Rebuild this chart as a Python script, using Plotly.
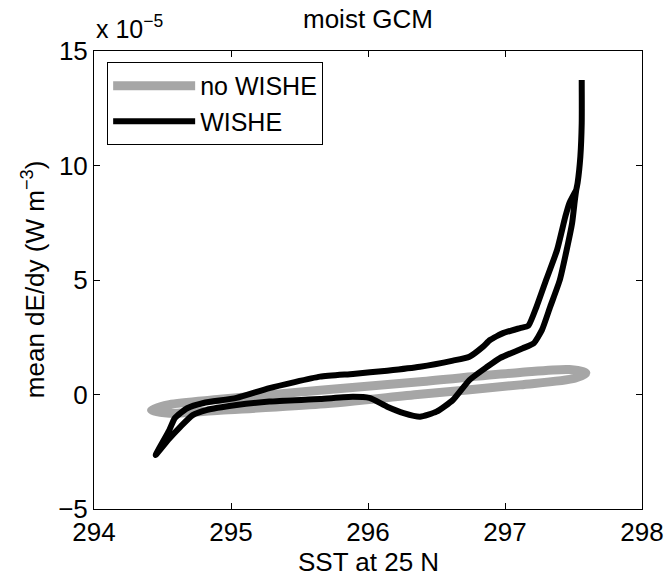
import plotly.graph_objects as go

# ---- data (SST in K, mean dE/dy in units of 1e-5 W m^-3) ----
x_ticks = [294, 295, 296, 297, 298]
y_ticks = [-5, 0, 5, 10, 15]

nowishe_sst = [294.42, 294.55, 294.92, 295.65, 296.38, 297.11, 297.47, 297.59,
               297.51, 297.11, 296.38, 295.65, 294.92, 294.55, 294.42]
nowishe_dedy = [-0.68, -0.44, -0.21, 0.19, 0.56, 0.96, 1.09, 0.94,
                0.71, 0.42, 0.01, -0.42, -0.69, -0.82, -0.68]

wishe_sst = [297.56, 297.56, 297.55, 297.53, 297.52, 297.51, 297.49, 297.45, 297.40,
             297.33, 297.27, 297.21, 297.13, 297.01, 296.96, 296.87, 296.74, 296.62,
             296.50, 296.38, 296.26, 296.14, 296.01, 295.89, 295.65, 295.28, 295.04,
             294.82, 294.72, 294.63, 294.54, 294.45, 294.55, 294.59, 294.68, 294.80,
             295.04, 295.28, 295.65, 295.89, 296.14, 296.38, 296.62, 296.74, 296.84,
             296.89, 296.99, 297.11, 297.17, 297.23, 297.30, 297.38, 297.44,
             297.47, 297.52]
wishe_dedy = [13.73, 11.86, 10.38, 9.24, 8.93, 8.49, 7.49, 6.31, 5.00,
              3.83, 2.82, 2.24, 2.02, 1.72, 1.58, 1.21, 0.63, -0.24,
              -0.75, -0.97, -0.81, -0.53, -0.15, -0.10, -0.20, -0.31, -0.46,
              -0.68, -0.90, -1.41, -1.99, -2.64, -1.55, -1.03, -0.60, -0.37,
              -0.15, 0.28, 0.78, 0.90, 1.04, 1.21, 1.48, 1.65, 2.09,
              2.38, 2.69, 2.90, 3.00, 3.83, 5.00, 6.31, 7.76,
              8.36, 8.93]

FONT = "Liberation Sans, Arial, Helvetica, sans-serif"

fig = go.Figure()
fig.add_trace(go.Scatter(
    x=nowishe_sst, y=nowishe_dedy, mode="lines", name="no WISHE",
    line=dict(color="#a6a6a6", width=9, shape="spline", smoothing=0.8),
))
fig.add_trace(go.Scatter(
    x=wishe_sst, y=wishe_dedy, mode="lines", name="WISHE",
    line=dict(color="black", width=6, shape="spline", smoothing=0.5),
))

axis_common = dict(
    showline=True, linecolor="black", linewidth=1, mirror="ticks",
    ticks="inside", ticklen=6, tickcolor="black", tickwidth=1,
    showgrid=False, zeroline=False, automargin=False,
    tickfont=dict(family=FONT, size=26, color="black"),
)

fig.update_xaxes(range=[294, 298], tickvals=x_ticks, ticktext=[str(v) for v in x_ticks],
                 ticklabelstandoff=0, **axis_common)
fig.update_yaxes(range=[-5, 15], tickvals=y_ticks,
                 ticktext=[("\u2212" + str(-v)) if v < 0 else str(v) for v in y_ticks],
                 ticklabelstandoff=0, **axis_common)

fig.update_layout(
    width=666, height=577,
    margin=dict(l=94, r=24, t=51, b=68),
    paper_bgcolor="white", plot_bgcolor="white",
    font=dict(family=FONT, color="black"),
    title=dict(text="moist GCM", x=0.5, xref="paper", xanchor="center",
               y=1 - 19 / 577, yref="container", yanchor="middle",
               font=dict(family=FONT, size=26, color="black")),
    showlegend=True,
    legend=dict(x=0.024, y=0.976, xanchor="left", yanchor="top",
                bgcolor="white", bordercolor="black", borderwidth=1,
                font=dict(family=FONT, size=25, color="black"),
                itemwidth=82, tracegroupgap=0),
    annotations=[
        dict(text="x 10<sup>\u22125</sup>", xref="paper", yref="paper",
             x=0.0, y=1.0, xanchor="left", yanchor="bottom", yshift=6,
             showarrow=False, font=dict(family=FONT, size=25, color="black")),
        dict(text="SST at 25 N", xref="paper", yref="paper",
             x=0.5, y=-0.1157, xanchor="center", yanchor="middle",
             showarrow=False, font=dict(family=FONT, size=26, color="black")),
        dict(text="mean dE/dy (W m<sup>\u22123</sup>)", xref="paper", yref="paper",
             x=-0.111, y=0.5, xanchor="center", yanchor="middle", textangle=-90,
             showarrow=False, font=dict(family=FONT, size=26, color="black")),
    ],
)

fig.write_html("out.html")
